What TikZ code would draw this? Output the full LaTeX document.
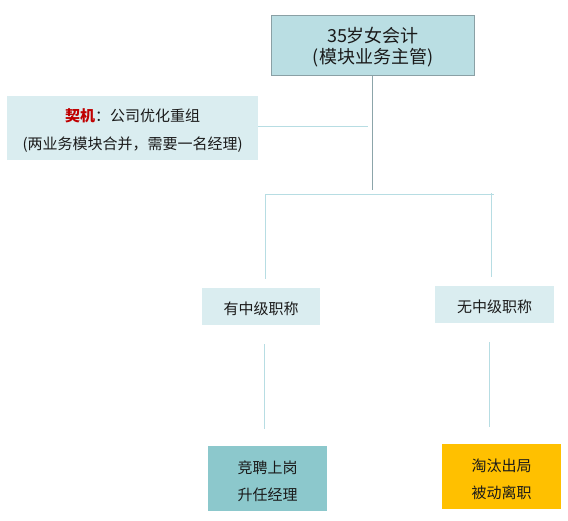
\documentclass[tikz,border=0pt]{standalone}
\usepackage{fontspec}
\setmainfont{Noto Sans CJK SC}
\definecolor{topfill}{RGB}{186,222,227}
\definecolor{topdraw}{RGB}{138,160,165}
\definecolor{lightfill}{RGB}{218,237,240}
\definecolor{tealfill}{RGB}{140,200,204}
\definecolor{goldfill}{RGB}{255,192,0}
\definecolor{linkblue}{RGB}{183,221,227}
\definecolor{linkgray}{RGB}{140,165,170}
\definecolor{txt}{RGB}{26,26,26}
\definecolor{keyred}{RGB}{192,0,0}
\begin{document}
\begin{tikzpicture}[x=1pt,y=-1pt,
  box/.style={inner sep=0pt, anchor=north west},
  label/.style={inner sep=0pt, align=center, text=txt, yshift=-2.5pt},
  link/.style={draw=linkblue, line width=1pt},
  glink/.style={draw=linkgray, line width=1pt}]
\useasboundingbox (0,0) rectangle (568,520);
% boxes
\node[box, fill=topfill, draw=topdraw, line width=1pt, minimum width=203pt, minimum height=60pt] (top) at (271,15) {};
\node[box, fill=lightfill, minimum width=251pt, minimum height=64pt] (ctx) at (7,96) {};
\node[box, fill=lightfill, minimum width=118pt, minimum height=37pt] (yes) at (202,288) {};
\node[box, fill=lightfill, minimum width=119pt, minimum height=37pt] (no) at (435,286) {};
\node[box, fill=tealfill, minimum width=119pt, minimum height=65pt] (promo) at (208,446) {};
\node[box, fill=goldfill, minimum width=119pt, minimum height=65pt] (out) at (442,444) {};
% texts
\node[label, font=\fontsize{18}{21.7}\selectfont, yshift=1pt] (topt) at (top.center) {35岁女会计\\(模块业务主管)};
\node[label, font=\fontsize{15}{28}\selectfont] (ctxt) at (ctx.center) {{\color{keyred}\bfseries 契机}：公司优化重组\\(两业务模块合并，需要一名经理)};
\node[label, font=\fontsize{15}{18}\selectfont] (yest) at (yes.center) {有中级职称};
\node[label, font=\fontsize{15}{18}\selectfont] (not) at (no.center) {无中级职称};
\node[label, font=\fontsize{15}{26.7}\selectfont] (promot) at (promo.center) {竞聘上岗\\升任经理};
\node[label, font=\fontsize{15}{26.7}\selectfont] (outt) at (out.center) {淘汰出局\\被动离职};
% coordinates
\coordinate (trunk) at (372,190);
\coordinate (ctxend) at (368,126);
\coordinate (bl) at (265,194);
\coordinate (br) at (494,194);
\coordinate (blt) at (265,279);
\coordinate (brs) at (491,193);
\coordinate (brt) at (491,277);
\coordinate (ya) at (264,344);
\coordinate (yb) at (264,429);
\coordinate (na) at (489,342);
\coordinate (nb) at (489,427);
% connectors
\draw[glink] (top.south -| trunk) -- (trunk);
\draw[link] (ctx.east |- ctxend) -- (ctxend);
\draw[link] (bl) -- (br);
\draw[link] (bl) -- (blt);
\draw[link] (brs) -- (brt);
\draw[link] (ya) -- (yb);
\draw[link] (na) -- (nb);
\end{tikzpicture}
\end{document}
